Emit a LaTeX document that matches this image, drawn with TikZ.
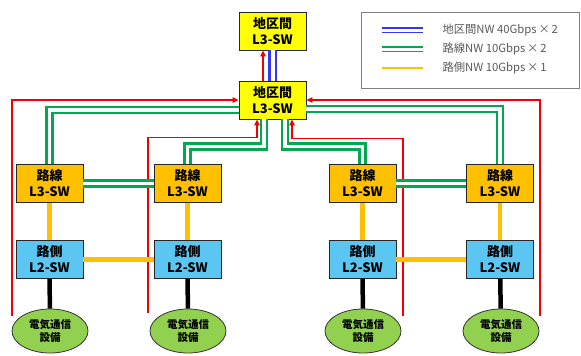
\documentclass[tikz,border=0pt]{standalone}
\usepackage{fontspec}
\setmainfont{Noto Sans CJK JP}
\usepackage{xcolor}
\usetikzlibrary{shapes.geometric, arrows.meta}

\definecolor{swyellow}{HTML}{FFFF00}
\definecolor{sworange}{HTML}{FFC000}
\definecolor{swblue}{HTML}{5BC6F2}
\definecolor{sitegreen}{HTML}{92D050}
\definecolor{lnred}{HTML}{F00000}
\definecolor{lngreen}{HTML}{00A84F}
\definecolor{lnblue}{HTML}{3535F5}
\definecolor{lnyellow}{HTML}{FFC000}
\definecolor{lgdtext}{HTML}{595959}

\begin{document}
\begin{tikzpicture}[
  x=1pt, y=-1pt,
  box/.style={rectangle, draw=black!85, line width=0.8pt, minimum width=67pt,
              minimum height=38pt, inner sep=0pt, align=center,
              font=\fontsize{13}{16}\selectfont\bfseries},
  site/.style={ellipse, draw=black!80, line width=0.8pt, fill=sitegreen,
               minimum width=76pt, minimum height=44pt, inner sep=0pt,
               align=center, font=\fontsize{10.5}{13}\selectfont\bfseries},
  redln/.style={-{Triangle[length=6pt,width=5.5pt]}, lnred, line width=1.3pt},
  grnln/.style={draw=lngreen, double=white, line width=2.6pt, double distance=3.4pt},
  bluln/.style={draw=lnblue, double=white, line width=2.4pt, double distance=4pt},
  yelln/.style={lnyellow, line width=4.5pt},
  blkln/.style={black, line width=4.5pt},
  lgd/.style={anchor=west, text=lgdtext, font=\fontsize{11.3}{13}\selectfont}
]
\useasboundingbox (0,0) rectangle (581,356);

% core switches
\node (top) [box, fill=swyellow] at (272.5,31)  {地区間\\L3-SW};
\node (mid) [box, fill=swyellow] at (272.5,100) {地区間\\L3-SW};

% line switches
\node (l3a) [box, fill=sworange] at (49.5,183.5)  {路線\\L3-SW};
\node (l3b) [box, fill=sworange] at (187.5,183.5) {路線\\L3-SW};
\node (l3c) [box, fill=sworange] at (362.5,183.5) {路線\\L3-SW};
\node (l3d) [box, fill=sworange] at (500,183.5)   {路線\\L3-SW};

% roadside switches
\node (l2a) [box, fill=swblue] at (49.5,259.5)  {路側\\L2-SW};
\node (l2b) [box, fill=swblue] at (187.5,259.5) {路側\\L2-SW};
\node (l2c) [box, fill=swblue] at (362.5,259.5) {路側\\L2-SW};
\node (l2d) [box, fill=swblue] at (500,259.5)   {路側\\L2-SW};

% equipment
\node (ea) [site] at (50,331)  {電気通信\\設備};
\node (eb) [site] at (188,331) {電気通信\\設備};
\node (ec) [site] at (363,331) {電気通信\\設備};
\node (ed) [site] at (501,331) {電気通信\\設備};

% red uplinks
\coordinate (r1) at (12,316);
\coordinate (r2) at (148,313);
\coordinate (r3) at (403,316);
\coordinate (r4) at (540,316);
\draw [redln] (r1) |- (mid.west);
\draw [redln] (r4) |- (mid.east);
\draw [redln] (r2) |- ([xshift=-15.5pt,yshift=-18pt]mid.south) -- ([xshift=-15.5pt]mid.south);
\draw [redln] (r3) |- ([xshift=19.5pt,yshift=-19pt]mid.south) -- ([xshift=19.5pt]mid.south);
\draw [redln] ([xshift=-9.5pt]mid.north) -- ([xshift=-9.5pt]top.south);

% core link
\draw [bluln] (mid.north) -- (top.south);

% line NW
\draw [grnln] ([yshift=-10pt]mid.west) -| (l3a.north);
\draw [grnln] ([yshift=-9pt]mid.east) -| (l3d.north);
\draw [grnln] ([xshift=-8.5pt]mid.south) -- ([xshift=-8.5pt,yshift=-27pt]mid.south) -| (l3b.north);
\draw [grnln] ([xshift=12.5pt]mid.south) -- ([xshift=12.5pt,yshift=-27pt]mid.south) -| (l3c.north);
\draw [grnln] (l3a) -- (l3b);
\draw [grnln] (l3c) -- (l3d);

% roadside NW
\foreach \u/\d in {l3a/l2a, l3b/l2b, l3c/l2c, l3d/l2d}
  \draw [yelln] (\u) -- (\d);
\draw [yelln] (l2a) -- (l2b);
\draw [yelln] (l2c) -- (l2d);

\foreach \s/\e in {l2a/ea, l2b/eb, l2c/ec, l2d/ed}
  \draw [blkln] (\s) -- (\e);

% legend
\node (lgdbox) [draw=black!50, line width=1pt, minimum width=218pt,
                minimum height=76pt, inner sep=0pt] at (470,50) {};
\node (t1) [lgd] at (439,30) {地区間NW 40Gbps\,×\,2};
\node (t2) [lgd] at (439,49) {路線NW 10Gbps\,×\,2};
\node (t3) [lgd] at (439,68) {路側NW 10Gbps\,×\,1};
\draw [bluln, line width=1.5pt, double distance=3pt] ([xshift=-57pt]t1.west) -- ([xshift=-16pt]t1.west);
\draw [grnln, line width=1.5pt, double distance=3pt] ([xshift=-57pt]t2.west) -- ([xshift=-16pt]t2.west);
\draw [yelln, line width=2.5pt] ([xshift=-57pt]t3.west) -- ([xshift=-16pt]t3.west);
\end{tikzpicture}
\end{document}
